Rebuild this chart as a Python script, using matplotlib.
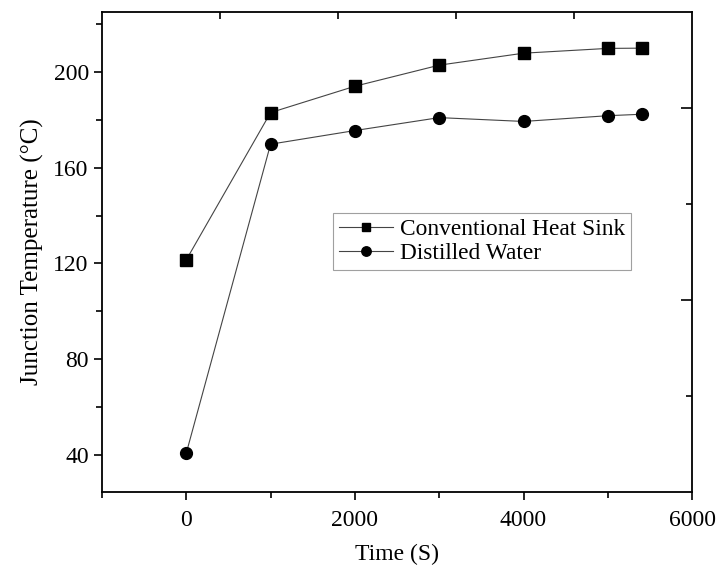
import matplotlib
matplotlib.use("Agg")
import matplotlib.pyplot as plt
from matplotlib.ticker import MultipleLocator, FixedLocator, NullFormatter

time_s = [0, 1000, 2000, 3000, 4000, 5000, 5400]
conventional = [121.5, 183.0, 194.0, 202.8, 207.8, 209.8, 209.9]
distilled = [40.8, 169.8, 175.5, 180.9, 179.3, 181.7, 182.3]
series_labels = ["Conventional Heat Sink", "Distilled Water"]

plt.rcParams['font.family'] = ['Liberation Serif', 'DejaVu Serif']
plt.rcParams['mathtext.fontset'] = 'stix'

fig = plt.figure(figsize=(7.18, 5.71), dpi=100)
ax = fig.add_axes([0.142, 0.138, 0.822, 0.841])

ax.plot(time_s, conventional, color='#444444', lw=0.8, marker='s', ms=8,
        mfc='black', mec='black', label=series_labels[0])
ax.plot(time_s, distilled, color='#444444', lw=0.8, marker='o', ms=8.5,
        mfc='black', mec='black', label=series_labels[1])

ax.set_xlim(-1000, 6000)
ax.set_ylim(24.5, 225)
ax.xaxis.set_major_locator(MultipleLocator(2000))
ax.xaxis.set_minor_locator(MultipleLocator(1000))
ax.yaxis.set_major_locator(MultipleLocator(40))
ax.yaxis.set_minor_locator(MultipleLocator(20))
ax.tick_params(which='major', direction='out', length=6, width=1.2, labelsize=17,
               top=False, right=False)
ax.tick_params(which='minor', direction='out', length=4, width=1.2, top=False, right=False)
ax.tick_params(axis='x', pad=7)
for s in ax.spines.values():
    s.set_linewidth(1.3)

ax.set_xlabel('Time (S)', fontsize=17, labelpad=9)
ax.set_ylabel('Junction Temperature (°C)', fontsize=18, labelpad=7)

# decorative top/right ticks (inward, equal divisions)
ax2 = fig.add_axes(ax.get_position(), frameon=False)
ax2.set_xlim(0, 5)
ax2.set_ylim(0, 5)
ax2.xaxis.set_major_locator(FixedLocator([1, 2, 3, 4]))
ax2.yaxis.set_major_locator(FixedLocator([2, 4]))
ax2.yaxis.set_minor_locator(FixedLocator([1, 3]))
ax2.xaxis.set_major_formatter(NullFormatter())
ax2.yaxis.set_major_formatter(NullFormatter())
ax2.tick_params(which='both', direction='in', width=1.2, top=True, right=True,
                bottom=False, left=False, labeltop=False, labelright=False,
                labelbottom=False, labelleft=False)
ax2.tick_params(axis='x', which='major', length=5)
ax2.tick_params(axis='y', which='major', length=8)
ax2.tick_params(axis='y', which='minor', length=4)
ax2.patch.set_visible(False)

leg = ax.legend(loc='upper left', bbox_to_anchor=(0.392, 0.581), fontsize=16.8,
                frameon=True, fancybox=False, edgecolor='#888888',
                handlelength=2.3, handletextpad=0.3, borderpad=0.25,
                labelspacing=0.1, borderaxespad=0, markerscale=0.8)
leg.get_frame().set_linewidth(0.8)

fig.savefig('out.png', dpi=100)
